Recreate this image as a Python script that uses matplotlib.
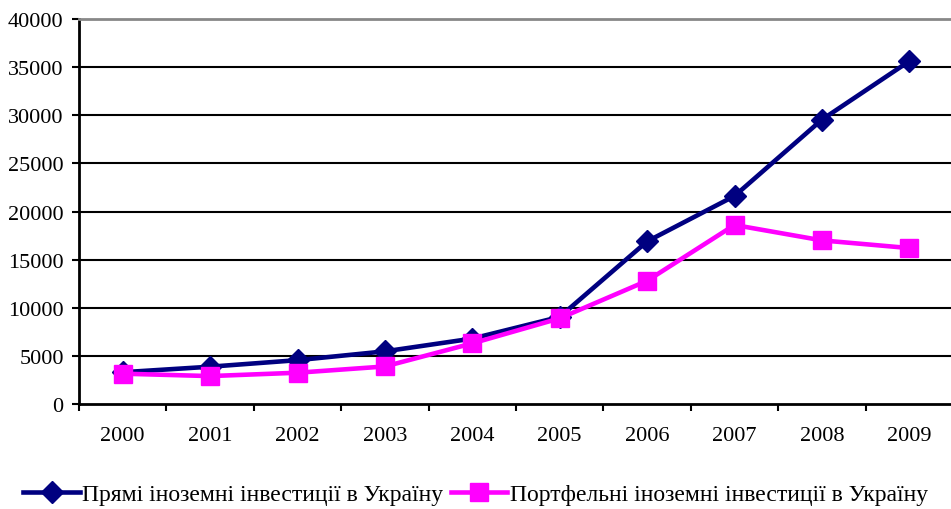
import matplotlib.pyplot as plt
from matplotlib.lines import Line2D

plt.rcParams['font.family'] = ['Liberation Serif', 'DejaVu Serif']

years = ["2000", "2001", "2002", "2003", "2004", "2005", "2006", "2007", "2008", "2009"]
direct = [3300, 3875, 4555, 5470, 6795, 9050, 16890, 21610, 29540, 35620]
portfolio = [3150, 2900, 3250, 3900, 6300, 8900, 12800, 18600, 17000, 16200]

label_direct = "Прямі іноземні інвестиції в Україну"
label_portf = "Портфельні іноземні інвестиції в Україну"

fig = plt.figure(figsize=(9.51, 5.10), dpi=100)
ax = fig.add_axes([79 / 951, 105 / 510, 874 / 951, 385 / 510])

# series order as in the original: portfolio drawn over direct
x = [i + 0.5 for i in range(len(years))]
ax.plot(x, direct, color="#000080", lw=3.3, marker="D", ms=11.5, zorder=3)
ax.plot(x, portfolio, color="#FF00FF", lw=3.3, marker="s", ms=13.5, zorder=4)

ax.set_xlim(0, len(years))
ax.set_ylim(0, 40000)
ax.set_yticks(range(0, 40001, 5000))
ax.set_xticks(range(0, len(years) + 1))
ax.set_xticklabels([])
ax.set_xticks(x, minor=True)
ax.set_xticklabels(years, minor=True)
ax.tick_params(axis="x", which="minor", length=0, pad=16, labelsize=16)
ax.tick_params(axis="x", which="major", length=5, width=1.5, direction="out")
ax.tick_params(axis="y", length=5, width=1.5, labelsize=16, pad=6)

for y in range(5000, 40000, 5000):
    ax.axhline(y, color="black", lw=1.5, zorder=1)
ax.spines["top"].set_color("#888888")
ax.spines["top"].set_linewidth(2)
ax.spines["right"].set_visible(False)
ax.spines["left"].set_linewidth(2)
ax.spines["bottom"].set_linewidth(2)

handles = [Line2D([], [], color="#000080", lw=3.3, marker="D", ms=11.5),
           Line2D([], [], color="#FF00FF", lw=3.3, marker="s", ms=13.5)]
fig.legend(handles, [label_direct, label_portf], loc="center", bbox_to_anchor=(0.5, 15 / 510),
           ncol=2, frameon=False, fontsize=17, handlelength=2.4, handletextpad=0.1,
           columnspacing=0.3)

fig.savefig("out.png", dpi=100)
